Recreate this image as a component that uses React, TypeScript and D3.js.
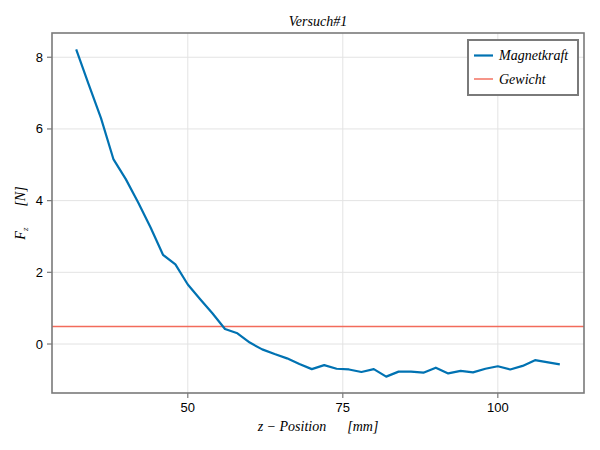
import React from 'react';
import * as d3 from 'd3';

// measured positions (mm) and force (N)
const positions = [32, 34, 36, 38, 40, 42, 44, 46, 48, 50, 52, 54, 56, 58, 60, 62, 64, 66, 68, 70, 72, 74, 76, 78, 80, 82, 84, 86, 88, 90, 92, 94, 96, 98, 100, 102, 104, 106, 110];
const magnetForce = [8.22, 7.25, 6.3, 5.16, 4.6, 3.95, 3.25, 2.49, 2.22, 1.66, 1.25, 0.85, 0.42, 0.3, 0.04, -0.15, -0.28, -0.4, -0.56, -0.7, -0.59, -0.69, -0.71, -0.78, -0.7, -0.91, -0.77, -0.77, -0.8, -0.66, -0.82, -0.75, -0.79, -0.69, -0.62, -0.71, -0.61, -0.45, -0.57];
const weight = 0.49;
const xTicks = [50, 75, 100];
const yTicks = [0, 2, 4, 6, 8];
const legendLabels = ['Magnetkraft', 'Gewicht'];

const W = 600;
const H = 450;
const margin = { top: 33, right: 16, bottom: 57, left: 52 };
const blue = '#0072b2';
const red = '#f26b5b';
const frame = '#7a7a7a';
const grid = '#e3e3e3';
const tickFont = '"Liberation Sans", Arial, sans-serif';
const texFont = '"Liberation Serif", "DejaVu Serif", serif';

function pad(ext: [number, number]): [number, number] {
  const d = (ext[1] - ext[0]) * 0.05;
  return [ext[0] - d, ext[1] + d];
}

export default function App() {
  const x = d3.scaleLinear()
    .domain(pad(d3.extent(positions) as [number, number]))
    .range([margin.left, W - margin.right]);
  const y = d3.scaleLinear()
    .domain(pad(d3.extent(magnetForce) as [number, number]))
    .range([H - margin.bottom, margin.top]);

  const line = d3.line<number>()
    .x((_, i) => x(positions[i]))
    .y(d => y(d));

  const x0 = margin.left;
  const x1 = W - margin.right;
  const y0 = margin.top;
  const y1 = H - margin.bottom;

  const lx = 468;
  const ly = 40;

  return (
    <svg width={W} height={H} style={{ position: 'absolute', left: 0, top: 0, background: '#fff' }}>
      {/* grid */}
      {xTicks.map(t => (
        <line key={'gx' + t} x1={x(t)} x2={x(t)} y1={y0} y2={y1} stroke={grid} strokeWidth={1} />
      ))}
      {yTicks.map(t => (
        <line key={'gy' + t} x1={x0} x2={x1} y1={y(t)} y2={y(t)} stroke={grid} strokeWidth={1} />
      ))}

      {/* data */}
      <line x1={x0} x2={x1} y1={y(weight)} y2={y(weight)} stroke={red} strokeWidth={1.5} />
      <path d={line(magnetForce) || ''} fill="none" stroke={blue} strokeWidth={2.2} strokeLinejoin="round" />

      {/* frame */}
      <rect x={x0} y={y0} width={x1 - x0} height={y1 - y0} fill="none" stroke={frame} strokeWidth={1.6} />

      {/* x axis */}
      {xTicks.map(t => (
        <g key={'xt' + t}>
          <line x1={x(t)} x2={x(t)} y1={y1} y2={y1 + 5} stroke={frame} strokeWidth={1.2} />
          <text x={x(t)} y={y1 + 19} textAnchor="middle" fontFamily={tickFont} fontSize={13} fill="#000">{t}</text>
        </g>
      ))}
      {/* y axis */}
      {yTicks.map(t => (
        <g key={'yt' + t}>
          <line x1={x0 - 5} x2={x0} y1={y(t)} y2={y(t)} stroke={frame} strokeWidth={1.2} />
          <text x={x0 - 9} y={y(t)} dy="0.35em" textAnchor="end" fontFamily={tickFont} fontSize={13} fill="#000">{t}</text>
        </g>
      ))}

      {/* labels */}
      <text x={(x0 + x1) / 2} y={26} textAnchor="middle" fontFamily={texFont} fontStyle="italic" fontSize={14}>
        Versuch#1
      </text>
      <text x={(x0 + x1) / 2} y={431} textAnchor="middle" fontFamily={texFont} fontStyle="italic" fontSize={14}>
        z − Position{'\u2003\u2002'}[mm]
      </text>
      <text transform={`translate(25,${(y0 + y1) / 2}) rotate(-90)`} textAnchor="middle" fontFamily={texFont} fontStyle="italic" fontSize={14}>
        F<tspan fontSize={9} dy={3}>z</tspan><tspan dy={-3}>{'\u2003\u2002'}[N]</tspan>
      </text>

      {/* legend */}
      <rect x={lx} y={ly} width={110} height={55} fill="#fff" stroke={frame} strokeWidth={2} />
      {legendLabels.map((name, i) => (
        <g key={name} transform={`translate(${lx},${ly + 15.5 + i * 23.5})`}>
          <line x1={6} x2={25} y1={0} y2={0} stroke={i === 0 ? blue : red} strokeWidth={i === 0 ? 2.2 : 1.8} strokeOpacity={i === 0 ? 1 : 0.8} />
          <text x={31} y={0} dy="0.35em" fontFamily={texFont} fontStyle="italic" fontSize={14}>{name}</text>
        </g>
      ))}
    </svg>
  );
}
